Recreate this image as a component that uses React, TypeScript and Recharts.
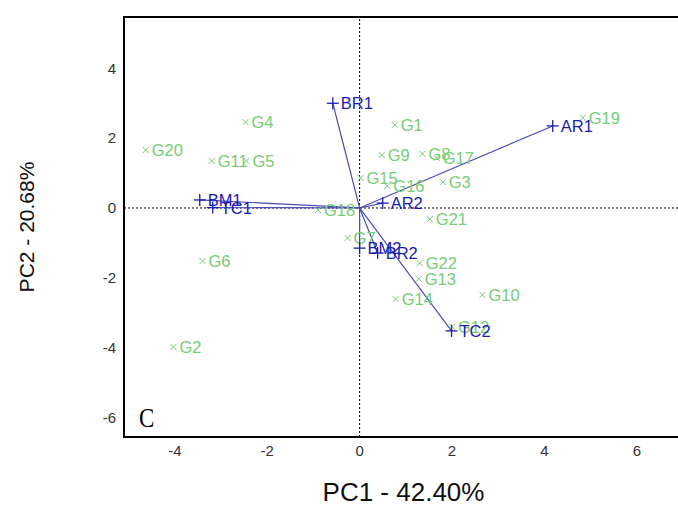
import React from 'react';
import { ScatterChart, Scatter, XAxis, YAxis, ReferenceLine, ReferenceArea } from 'recharts';

// genotype scores (green x)
const genotypes = ['G1', 'G2', 'G3', 'G4', 'G5', 'G6', 'G7', 'G8', 'G9', 'G10', 'G11', 'G12', 'G13', 'G14', 'G15', 'G16', 'G17', 'G18', 'G19', 'G20', 'G21', 'G22'];
const genoPC1 = [0.76, -4.03, 1.8, -2.47, -2.45, -3.4, -0.26, 1.36, 0.48, 2.66, -3.2, 2.0, 1.28, 0.78, 0.02, 0.6, 1.67, -0.9, 4.83, -4.63, 1.52, 1.3];
const genoPC2 = [2.38, -3.98, 0.74, 2.46, 1.35, -1.52, -0.86, 1.55, 1.52, -2.49, 1.35, -3.4, -2.03, -2.61, 0.86, 0.63, 1.43, -0.06, 2.58, 1.66, -0.32, -1.58];

// trait loadings (blue vectors)
const traits = ['BR1', 'AR1', 'BM1', 'TC1', 'AR2', 'BM2', 'BR2', 'TC2'];
const traitPC1 = [-0.58, 4.18, -3.46, -3.18, 0.5, 0.0, 0.39, 1.99];
const traitPC2 = [3.0, 2.35, 0.23, 0.01, 0.14, -1.15, -1.29, -3.52];

const xTicks = [-4, -2, 0, 2, 4, 6];
const yTicks = [-6, -4, -2, 0, 2, 4];

const genoData = genotypes.map((name, i) => ({ name, x: genoPC1[i], y: genoPC2[i] }));
const traitData = traits.map((name, i) => ({ name, x: traitPC1[i], y: traitPC2[i] }));

const GREEN = '#77cc77';
const BLUE = '#1c1cae';
const font = '"Liberation Sans", Arial, sans-serif';

const Cross = (props: any) => {
  const { cx, cy, payload } = props;
  return (
    <g>
      <line x1={cx - 3} y1={cy - 3} x2={cx + 3} y2={cy + 3} stroke={GREEN} strokeWidth={1} />
      <line x1={cx - 3} y1={cy + 3} x2={cx + 3} y2={cy - 3} stroke={GREEN} strokeWidth={1} />
      <text x={cx + 6} y={cy + 6} fill={GREEN} fontSize={16.5} fontFamily={font}>{payload.name}</text>
    </g>
  );
};

const Plus = (props: any) => {
  const { cx, cy, payload } = props;
  return (
    <g>
      <line x1={cx - 6} y1={cy} x2={cx + 6} y2={cy} stroke={BLUE} strokeWidth={1.3} />
      <line x1={cx} y1={cy - 6} x2={cx} y2={cy + 6} stroke={BLUE} strokeWidth={1.3} />
      <text x={cx + 8} y={cy + 6} fill={BLUE} fontSize={16.5} fontFamily={font}>{payload.name}</text>
    </g>
  );
};

export default function App() {
  return (
    <div style={{ position: 'fixed', left: 0, top: 0, width: 678, height: 510, overflow: 'hidden', background: '#fff' }}>
      <ScatterChart width={730} height={510} margin={{ top: 17, right: 47, bottom: 3, left: 24 }}>
        <XAxis
          type="number"
          dataKey="x"
          domain={[-5.1, 7]}
          ticks={xTicks}
          allowDataOverflow
          axisLine={false}
          tickLine={false}
          height={70}
          tick={{ fill: '#333', fontSize: 15, fontFamily: font }}
          label={{ value: 'PC1 - 42.40%', position: 'insideBottom', offset: 6, fill: '#111', fontSize: 26, fontFamily: font }}
        />
        <YAxis
          type="number"
          dataKey="y"
          domain={[-6.56, 5.47]}
          ticks={yTicks}
          allowDataOverflow
          axisLine={false}
          tickLine={false}
          width={100}
          tick={{ fill: '#333', fontSize: 15, fontFamily: font }}
          label={{ value: 'PC2 - 20.68%', angle: -90, position: 'insideLeft', offset: 3, fill: '#111', fontSize: 21, fontFamily: font, style: { textAnchor: 'middle' } }}
        />
        <ReferenceLine x={0} stroke="#000" strokeDasharray="2 2" />
        <ReferenceLine y={0} stroke="#000" strokeDasharray="2 2" />
        {traitData.map((t) => (
          <ReferenceLine key={t.name} segment={[{ x: 0, y: 0 }, { x: t.x, y: t.y }]} stroke="#4b4bb4" strokeWidth={1.2} />
        ))}
        <Scatter data={genoData} shape={<Cross />} isAnimationActive={false} />
        <Scatter data={traitData} shape={<Plus />} isAnimationActive={false} />
        <ReferenceArea x1={-5.1} x2={7} y1={-6.56} y2={5.47} fill="none" stroke="#000" strokeWidth={2} />
      </ScatterChart>
      <div style={{ position: 'absolute', left: 139, top: 403, fontSize: 27, fontFamily: '"Liberation Serif", serif', color: '#000', transform: 'scaleX(0.85)', transformOrigin: 'left top' }}>C</div>
    </div>
  );
}
